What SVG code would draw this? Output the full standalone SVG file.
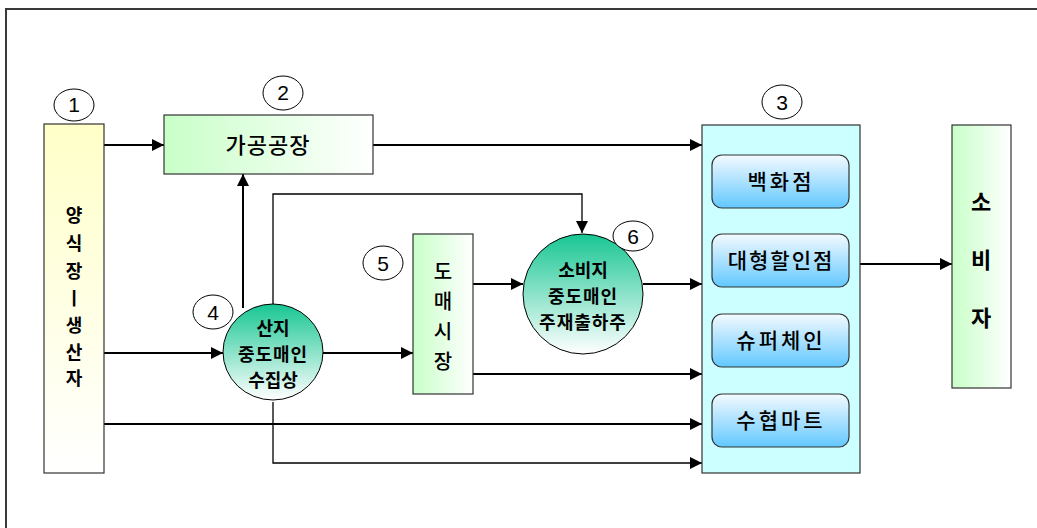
<svg xmlns="http://www.w3.org/2000/svg" width="1037" height="528" viewBox="0 0 1037 528">
<style>
.box{stroke:#333;stroke-width:1.2}
.lbl{fill:#fff;stroke:#000;stroke-width:1}
.num{font-family:"Liberation Sans",Arial,sans-serif;font-size:21px;fill:#000;text-anchor:middle}
.kr{font-family:"Noto Sans CJK KR","Noto Sans",sans-serif;fill:#000;text-anchor:middle}
.m{font-weight:500}
.b{font-weight:bold}
.ln{stroke:#000;stroke-width:2;fill:none}
.thin{stroke:#000;stroke-width:1.3;fill:none}
</style>
<defs>
<linearGradient id="gY" x1="0" y1="0" x2="0" y2="1"><stop offset="0" stop-color="#FFFFC8"/><stop offset="1" stop-color="#FFFFFF"/></linearGradient>
<linearGradient id="gG" x1="0" y1="0" x2="1" y2="0"><stop offset="0" stop-color="#C8FFC8"/><stop offset="1" stop-color="#FFFFFF"/></linearGradient>
<linearGradient id="gC" x1="0" y1="0" x2="0" y2="1"><stop offset="0" stop-color="#18C693"/><stop offset="1" stop-color="#FFFFFF"/></linearGradient>
<linearGradient id="gB" x1="0" y1="0" x2="0" y2="1"><stop offset="0" stop-color="#F4FAFF"/><stop offset="1" stop-color="#62C8FF"/></linearGradient>
<marker id="ar" viewBox="0 0 10 10" refX="10" refY="5" markerWidth="12" markerHeight="12" markerUnits="userSpaceOnUse" orient="auto"><path d="M0,0 L10,5 L0,10 z" fill="#000"/></marker>
</defs>
<rect width="1037" height="528" fill="#fff"/>
<path d="M6,528 L6,9 L1037,9" fill="none" stroke="#3a3a3a" stroke-width="2"/>

<g id="connectors">
<line class="ln" x1="104" y1="145" x2="164" y2="145" marker-end="url(#ar)"/>
<line class="ln" x1="373" y1="145" x2="702" y2="145" marker-end="url(#ar)"/>
<line class="ln" x1="243" y1="308" x2="243" y2="174" marker-end="url(#ar)"/>
<polyline class="thin" points="273,304 273,194 582,194 582,233" marker-end="url(#ar)"/>
<line class="ln" x1="104" y1="353" x2="223" y2="353" marker-end="url(#ar)"/>
<line class="ln" x1="323" y1="353" x2="413" y2="353" marker-end="url(#ar)"/>
<line class="ln" x1="473" y1="284" x2="523" y2="284" marker-end="url(#ar)"/>
<line class="ln" x1="643" y1="284" x2="702" y2="284" marker-end="url(#ar)"/>
<line class="ln" x1="473" y1="374" x2="702" y2="374" marker-end="url(#ar)"/>
<line class="ln" x1="104" y1="424" x2="702" y2="424" marker-end="url(#ar)"/>
<polyline class="thin" points="273,402 273,463 702,463" marker-end="url(#ar)"/>
<line class="ln" x1="860" y1="264" x2="952" y2="264" marker-end="url(#ar)"/>
</g>

<g id="producer">
<rect class="box" x="44" y="124" width="60" height="349" fill="url(#gY)"/>
<g class="kr b" font-size="18">
<text x="74" y="222">양</text>
<text x="74" y="250">식</text>
<text x="74" y="278">장</text>
<text x="74" y="305">ㅣ</text>
<text x="74" y="332">생</text>
<text x="74" y="359">산</text>
<text x="74" y="385">자</text>
</g>
<ellipse class="lbl" cx="74" cy="105" rx="20" ry="16"/>
<text class="num" x="74" y="112">1</text>
</g>

<g id="factory">
<rect class="box" x="164" y="115" width="209" height="59" fill="url(#gG)"/>
<text class="kr m" x="268" y="153" font-size="22" letter-spacing="1">가공공장</text>
<ellipse class="lbl" cx="283" cy="93" rx="20" ry="17"/>
<text class="num" x="283" y="100">2</text>
</g>

<g id="retail">
<rect class="box" x="702" y="125" width="158" height="348" fill="#CCFFFF"/>
<ellipse class="lbl" cx="782" cy="102" rx="20" ry="17"/>
<text class="num" x="782" y="110">3</text>
</g>
<g id="dept">
<rect class="box" x="712" y="155" width="137" height="53" rx="10" fill="url(#gB)"/>
<text class="kr m" x="781" y="189" font-size="21" letter-spacing="3">백화점</text>
</g>
<g id="discount">
<rect class="box" x="712" y="234" width="137" height="53" rx="10" fill="url(#gB)"/>
<text class="kr m" x="781" y="268" font-size="21" letter-spacing="2">대형할인점</text>
</g>
<g id="super">
<rect class="box" x="712" y="314" width="137" height="53" rx="10" fill="url(#gB)"/>
<text class="kr m" x="781" y="348" font-size="21" letter-spacing="3">슈퍼체인</text>
</g>
<g id="suhyup">
<rect class="box" x="712" y="394" width="137" height="53" rx="10" fill="url(#gB)"/>
<text class="kr m" x="781" y="428" font-size="21" letter-spacing="3">수협마트</text>
</g>

<g id="consumer">
<rect class="box" x="952" y="125" width="59" height="263" fill="url(#gG)"/>
<g class="kr b" font-size="22">
<text x="981" y="210">소</text>
<text x="981" y="268">비</text>
<text x="981" y="326">자</text>
</g>
</g>

<g id="collector">
<ellipse cx="273" cy="352" rx="50" ry="48" fill="url(#gC)" stroke="#000" stroke-width="1"/>
<g class="kr b" font-size="18">
<text x="273" y="335">산지</text>
<text x="273" y="361" letter-spacing="1">중도매인</text>
<text x="273" y="387">수집상</text>
</g>
<ellipse class="lbl" cx="213" cy="312" rx="20" ry="17"/>
<text class="num" x="213" y="320">4</text>
</g>

<g id="wholesale">
<rect class="box" x="413" y="234" width="60" height="160" fill="url(#gG)"/>
<g class="kr m" font-size="20">
<text x="443" y="279">도</text>
<text x="443" y="309">매</text>
<text x="443" y="339">시</text>
<text x="443" y="369">장</text>
</g>
<ellipse class="lbl" cx="383" cy="263" rx="20" ry="17"/>
<text class="num" x="383" y="271">5</text>
</g>

<g id="consumerwholesaler">
<circle cx="583" cy="294" r="60" fill="url(#gC)" stroke="#000" stroke-width="1"/>
<g class="kr b" font-size="18">
<text x="583" y="277">소비지</text>
<text x="583" y="303" letter-spacing="1">중도매인</text>
<text x="583" y="329" letter-spacing="1">주재출하주</text>
</g>
<ellipse class="lbl" cx="633" cy="236" rx="20" ry="15"/>
<text class="num" x="633" y="244">6</text>
</g>
</svg>
